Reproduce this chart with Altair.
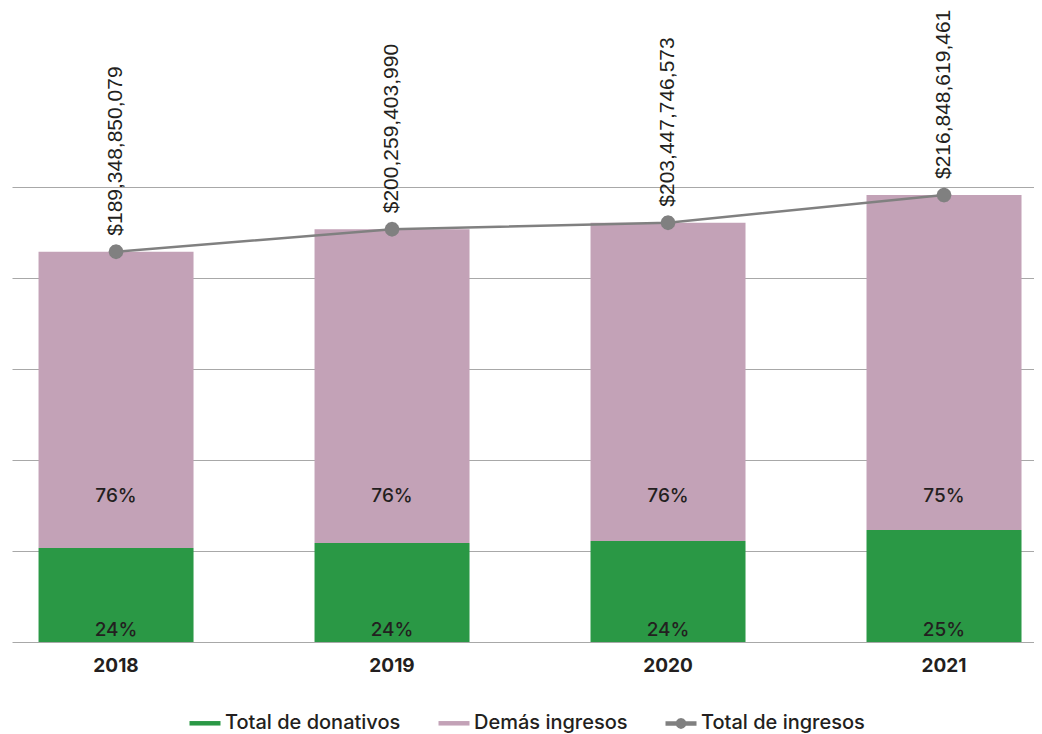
import altair as alt
import pandas as pd

years = ["2018", "2019", "2020", "2021"]
total_ingresos = [189348850079, 200259403990, 203447746573, 216848619461]
total_donativos = [45.6e9, 48.0e9, 49.0e9, 54.3e9]
pct_donativos = ["24%", "24%", "24%", "25%"]
pct_demas = ["76%", "76%", "76%", "75%"]
series = ["Total de donativos", "Demás ingresos", "Total de ingresos"]
colors = ["#2a9845", "#c3a2b7", "#808080"]
grid_values = [0, 44.15e9, 88.3e9, 132.45e9, 176.6e9, 220.75e9]
y_max = 307.6e9

demas = [t - d for t, d in zip(total_ingresos, total_donativos)]

bars_rows = []
for i, y in enumerate(years):
    bars_rows.append({"year": y, "series": series[0], "value": total_donativos[i], "order": 0})
    bars_rows.append({"year": y, "series": series[1], "value": demas[i], "order": 1})
bars_df = pd.DataFrame(bars_rows)

years_df = pd.DataFrame({
    "year": years,
    "total": total_ingresos,
    "pct_don": pct_donativos,
    "pct_demas": pct_demas,
    "series": [series[2]] * len(years),
})

TXT = "#231f20"
FONT = "Inter"

x_enc = alt.X(
    "year:N",
    sort=years,
    scale=alt.Scale(paddingInner=0.4384, paddingOuter=0.0707, align=0.68),
    axis=alt.Axis(
        title=None, labelAngle=0, domain=False, ticks=False,
        labelFont=FONT, labelFontSize=19, labelFontWeight="bold",
        labelColor=TXT, labelPadding=14,
    ),
)
y_scale = alt.Scale(domain=[0, y_max], nice=False, zero=True)
color_scale = alt.Scale(domain=series, range=colors)

# legend glyphs: plain line (with equal vertical extent) and line with a round dot;
# filled chart points show only the dot of the second glyph
LINE_SYMBOL = "M0,-0.22M-1,0L1,0M0,0.22"
DOT_SYMBOL = (
    "M-1,0L1,0"
    "M0.2,0L0.17,0.1L0.1,0.17L0,0.2L-0.1,0.17L-0.17,0.1L-0.2,0"
    "L-0.17,-0.1L-0.1,-0.17L0,-0.2L0.1,-0.17L0.17,-0.1Z"
)
shape_scale = alt.Scale(domain=series, range=[LINE_SYMBOL, LINE_SYMBOL, DOT_SYMBOL])

legend = alt.Legend(
    title=None,
    orient="none",
    legendX=175,
    legendY=697,
    direction="horizontal",
    labelFont=FONT,
    labelFontSize=20,
    labelFontWeight=500,
    labelColor=TXT,
    labelLimit=400,
    labelOffset=2,
    columnPadding=28,
    symbolType="stroke",
    symbolSize=961,
    symbolStrokeWidth=4.5,
    symbolOpacity=1,
)

bars = alt.Chart(bars_df).mark_bar().encode(
    x=x_enc,
    y=alt.Y(
        "value:Q", stack="zero", scale=y_scale,
        axis=alt.Axis(
            title=None, labels=False, ticks=False, domain=False, grid=True,
            values=grid_values, gridColor="#a8a8a8", gridWidth=1,
        ),
    ),
    color=alt.Color("series:N", scale=color_scale, legend=legend),
    order=alt.Order("order:Q"),
)

pct_green = alt.Chart(years_df).mark_text(
    dy=-12, baseline="middle", align="center", font=FONT, fontSize=19,
    fontWeight=500, color=TXT,
).encode(x=alt.X("year:N", sort=years), y=alt.datum(0), text="pct_don:N")

pct_pink = alt.Chart(years_df).mark_text(
    baseline="middle", align="center", font=FONT, fontSize=19,
    fontWeight=500, color=TXT,
).encode(x=alt.X("year:N", sort=years), y=alt.value(488), text="pct_demas:N")

line = alt.Chart(years_df).mark_line(strokeWidth=2.5).encode(
    x=alt.X("year:N", sort=years),
    y=alt.Y("total:Q", scale=y_scale),
    color=alt.Color("series:N", scale=color_scale, legend=legend),
)

points = alt.Chart(years_df).mark_point(filled=True, size=5625, opacity=1).encode(
    x=alt.X("year:N", sort=years),
    y=alt.Y("total:Q", scale=y_scale),
    color=alt.Color("series:N", scale=color_scale, legend=legend),
    shape=alt.Shape("series:N", scale=shape_scale, legend=legend),
)

total_text = alt.Chart(years_df).mark_text(
    angle=270, align="left", baseline="middle", dx=16,
    font="Liberation Sans", fontSize=21, color=TXT,
).encode(
    x=alt.X("year:N", sort=years),
    y=alt.Y("total:Q", scale=y_scale),
    text=alt.Text("total:Q", format="$,.0f"),
)

chart = alt.layer(bars, pct_green, pct_pink, line, points, total_text).properties(
    width=1022,
    height=634,
    background="white",
    padding={"left": 4, "top": 0, "right": 0, "bottom": 0},
).configure_view(stroke=None)

chart.save("out.html", embed_options={"renderer": "svg", "actions": False})
